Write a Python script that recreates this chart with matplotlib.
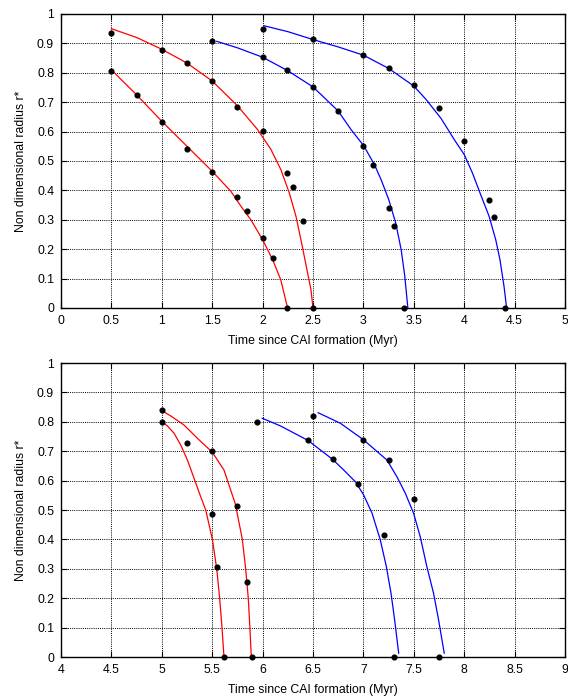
#%%
import matplotlib
matplotlib.use('Agg')
import matplotlib.pyplot as plt
import numpy as np

plt.rcParams['font.family'] = ['Liberation Sans', 'DejaVu Sans']

#%% measured points, top panel
top_pts_t = [0.5, 0.5, 0.75, 1.0, 1.0, 1.25, 1.25, 1.5, 1.5, 1.5, 1.75, 1.75,
             1.85, 2.0, 2.0, 2.0, 2.0, 2.1, 2.245, 2.245, 2.245, 2.3, 2.4,
             2.5, 2.5, 2.5, 2.75, 3.0, 3.0, 3.1, 3.25, 3.25, 3.3, 3.4, 3.5,
             3.75, 4.0, 4.25, 4.3, 4.4]
top_pts_r = [0.935, 0.805, 0.723, 0.876, 0.632, 0.832, 0.541, 0.907, 0.772,
             0.462, 0.682, 0.376, 0.331, 0.95, 0.853, 0.601, 0.239, 0.169,
             0.0, 0.81, 0.459, 0.411, 0.297, 0.0, 0.915, 0.752, 0.67, 0.862,
             0.551, 0.486, 0.815, 0.341, 0.278, 0.0, 0.759, 0.68, 0.568,
             0.368, 0.308, 0.0]

# fitted curves, top panel
red_a_t = [0.5, 0.75, 1.0, 1.25, 1.5, 1.685, 1.785, 1.884, 2.0, 2.1, 2.18, 2.248]
red_a_r = [0.81, 0.725, 0.635, 0.55, 0.465, 0.397, 0.346, 0.30, 0.232, 0.164, 0.096, 0.0]

red_b_t = [0.5, 0.75, 1.0, 1.25, 1.5, 1.75, 1.95, 2.083, 2.182, 2.265, 2.331,
           2.387, 2.44, 2.48, 2.5]
red_b_r = [0.95, 0.92, 0.88, 0.833, 0.772, 0.688, 0.607, 0.539, 0.47, 0.391,
           0.312, 0.221, 0.13, 0.062, 0.0]

blue_c_t = [1.545, 1.75, 2.0, 2.25, 2.5, 2.75, 2.877, 3.003, 3.109, 3.175,
            3.25, 3.32, 3.375, 3.41, 3.441]
blue_c_r = [0.907, 0.885, 0.853, 0.807, 0.752, 0.67, 0.607, 0.552, 0.488,
            0.437, 0.37, 0.29, 0.198, 0.11, 0.0]

blue_d_t = [2.013, 2.25, 2.5, 2.75, 3.0, 3.25, 3.5, 3.62, 3.77, 3.901, 4.0,
            4.082, 4.164, 4.247, 4.313, 4.355, 4.395, 4.421]
blue_d_r = [0.96, 0.94, 0.913, 0.888, 0.86, 0.815, 0.755, 0.71, 0.645, 0.573,
            0.522, 0.459, 0.385, 0.312, 0.232, 0.164, 0.074, 0.0]

#%% measured points, bottom panel
bot_pts_t = [5.0, 5.0, 5.25, 5.5, 5.5, 5.55, 5.75, 5.845, 5.62, 5.89, 5.945,
             6.5, 6.45, 6.7, 7.0, 7.25, 6.95, 7.5, 7.2, 7.3, 7.75]
bot_pts_r = [0.839, 0.801, 0.728, 0.7, 0.485, 0.305, 0.514, 0.256, 0.0, 0.0,
             0.801, 0.82, 0.737, 0.674, 0.739, 0.67, 0.59, 0.536, 0.414, 0.0,
             0.0]

red_e_t = [5.0, 5.089, 5.221, 5.353, 5.5, 5.617, 5.73, 5.799, 5.832, 5.858,
           5.874, 5.888]
red_e_r = [0.838, 0.82, 0.789, 0.744, 0.697, 0.636, 0.52, 0.4, 0.3, 0.2, 0.1, 0.0]

red_f_t = [5.0, 5.056, 5.122, 5.188, 5.254, 5.32, 5.386, 5.436, 5.502, 5.545,
           5.574, 5.597, 5.617]
red_f_r = [0.8, 0.786, 0.761, 0.721, 0.67, 0.608, 0.545, 0.5, 0.4, 0.3, 0.2,
           0.1, 0.0]

blue_g_t = [5.997, 6.178, 6.449, 6.696, 6.805, 6.921, 7.003, 7.086, 7.168,
            7.228, 7.274, 7.31, 7.35]
blue_g_r = [0.812, 0.786, 0.737, 0.672, 0.636, 0.596, 0.551, 0.489, 0.398,
            0.307, 0.217, 0.126, 0.013]

blue_h_t = [6.551, 6.772, 6.997, 7.234, 7.333, 7.416, 7.498, 7.564, 7.63,
            7.696, 7.746, 7.802]
blue_h_r = [0.831, 0.795, 0.74, 0.67, 0.613, 0.557, 0.489, 0.409, 0.307,
            0.217, 0.126, 0.013]

#%% ticks
y_ticks = [0, 0.1, 0.2, 0.3, 0.4, 0.5, 0.6, 0.7, 0.8, 0.9, 1]
y_labels = ['0', '0.1', '0.2', '0.3', '0.4', '0.5', '0.6', '0.7', '0.8', '0.9', '1']
top_xticks = [0, 0.5, 1, 1.5, 2, 2.5, 3, 3.5, 4, 4.5, 5]
top_xlabels = ['0', '0.5', '1', '1.5', '2', '2.5', '3', '3.5', '4', '4.5', '5']
bot_xticks = [4, 4.5, 5, 5.5, 6, 6.5, 7, 7.5, 8, 8.5, 9]
bot_xlabels = ['4', '4.5', '5', '5.5', '6', '6.5', '7', '7.5', '8', '8.5', '9']

FS = 8.8


def style_axes(ax, xticks, xlabels, xlim):
    ax.set_xlim(*xlim)
    ax.set_ylim(0, 1)
    ax.set_xticks(xticks)
    ax.set_xticklabels(xlabels, fontsize=FS)
    ax.set_yticks(y_ticks)
    ax.set_yticklabels(y_labels, fontsize=FS)
    ax.tick_params(direction='in', length=4, width=0.8, top=True, right=True,
                   pad=5, colors='black')
    ax.grid(True, color='black', linestyle=(0, (1, 1.2)), linewidth=0.7)
    ax.set_axisbelow(True)
    for s in ax.spines.values():
        s.set_linewidth(1.0)
        s.set_color('black')
    ax.set_xlabel('Time since CAI formation (Myr)', fontsize=FS, labelpad=6)
    ax.set_ylabel('Non dimensional radius r*', fontsize=FS, labelpad=7)


#%%
fig = plt.figure(figsize=(5.68, 6.96), dpi=100)
ax1 = fig.add_axes([0.1074, 0.5575, 0.8873, 0.4224])
ax2 = fig.add_axes([0.1074, 0.0560, 0.8873, 0.4224])

lw = 0.9
for t, r in [(red_a_t, red_a_r), (red_b_t, red_b_r)]:
    ax1.plot(t, r, color='#ff0000', lw=lw, zorder=3)
for t, r in [(blue_c_t, blue_c_r), (blue_d_t, blue_d_r)]:
    ax1.plot(t, r, color='#0000ff', lw=lw, zorder=3)
ax1.plot(top_pts_t, top_pts_r, 'o', color='black', ms=3.4, zorder=4,
         clip_on=False)
style_axes(ax1, top_xticks, top_xlabels, (0, 5))

for t, r in [(red_e_t, red_e_r), (red_f_t, red_f_r)]:
    ax2.plot(t, r, color='#ff0000', lw=lw, zorder=3)
for t, r in [(blue_g_t, blue_g_r), (blue_h_t, blue_h_r)]:
    ax2.plot(t, r, color='#0000ff', lw=lw, zorder=3)
ax2.plot(bot_pts_t, bot_pts_r, 'o', color='black', ms=3.4, zorder=4,
         clip_on=False)
style_axes(ax2, bot_xticks, bot_xlabels, (4, 9))

fig.savefig('out.png', dpi=100)
